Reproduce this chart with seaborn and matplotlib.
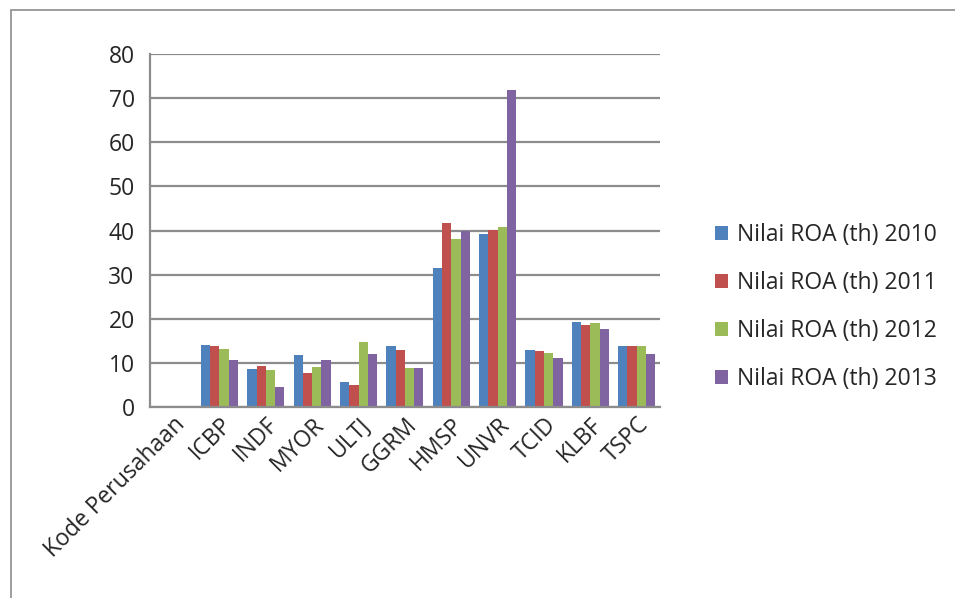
import numpy as np
import pandas as pd
import matplotlib
matplotlib.use('Agg')
import matplotlib.pyplot as plt
import seaborn as sns
from matplotlib.patches import Rectangle

# data
kode = ['Kode Perusahaan', 'ICBP', 'INDF', 'MYOR', 'ULTJ', 'GGRM',
        'HMSP', 'UNVR', 'TCID', 'KLBF', 'TSPC']
roa_2010 = [np.nan, 14.0, 8.6, 11.8, 5.7, 13.9, 31.6, 39.2, 12.9, 19.3, 13.9]
roa_2011 = [np.nan, 13.8, 9.4, 7.7, 5.0, 12.9, 41.6, 40.1, 12.7, 18.7, 13.9]
roa_2012 = [np.nan, 13.1, 8.4, 9.1, 14.8, 8.9, 38.1, 40.7, 12.2, 19.1, 13.8]
roa_2013 = [np.nan, 10.6, 4.6, 10.7, 12.0, 8.8, 39.8, 71.7, 11.2, 17.6, 12.1]
series = ['Nilai ROA (th) 2010', 'Nilai ROA (th) 2011',
          'Nilai ROA (th) 2012', 'Nilai ROA (th) 2013']
warna = ['#4F81BD', '#C0504D', '#9BBB59', '#8064A2']

# monta tabela longa pro seaborn
df = pd.DataFrame({'kode': kode, series[0]: roa_2010, series[1]: roa_2011,
                   series[2]: roa_2012, series[3]: roa_2013})
df = df.melt(id_vars='kode', var_name='tahun', value_name='roa')

sns.set_style('white')
plt.rcParams['font.family'] = ['Open Sans', 'DejaVu Sans']
fs = 16.5

fig = plt.figure(figsize=(9.55, 5.98), dpi=100)
ax = fig.add_axes([0.157, 0.319, 0.534, 0.591])

sns.barplot(data=df, x='kode', y='roa', hue='tahun', order=kode,
            hue_order=series, palette=warna, width=0.8, ax=ax,
            edgecolor='none', saturation=1, legend=True)

ax.set_ylim(0, 80)
ax.set_yticks(range(0, 81, 10))
ax.set_xlim(-0.5, len(kode) - 0.5)
ax.yaxis.grid(True, color='#8c8c8c', linewidth=1.6)
ax.set_axisbelow(True)
ax.set_xlabel('')
ax.set_ylabel('')

for s in ['top', 'right']:
    ax.spines[s].set_visible(False)
for s in ['left', 'bottom']:
    ax.spines[s].set_color('#8c8c8c')
    ax.spines[s].set_linewidth(1.6)

# ticks do eixo x entre as categorias
ax.set_xticks(np.arange(-0.5, len(kode), 1.0), minor=True)
ax.tick_params(axis='x', which='minor', length=6, color='#8c8c8c', width=1.2)
ax.tick_params(axis='x', which='major', length=0, pad=4)
ax.tick_params(axis='y', length=6, color='#8c8c8c', width=1.2, labelsize=fs, pad=5)
ax.set_xticks(range(len(kode)))
ax.set_xticklabels(kode, rotation=45, ha='right', rotation_mode='anchor', fontsize=fs)

# legenda à direita
handles, labels = ax.get_legend_handles_labels()
ax.get_legend().remove()
fig.legend(handles, labels, loc='center left', bbox_to_anchor=(0.727, 0.486),
           frameon=False, fontsize=fs, labelspacing=1.05, handlelength=0.57,
           handleheight=0.57, handletextpad=0.4)

# moldura do gráfico
fig.patches.append(Rectangle((0.011, -0.1), 1.2, 1.083, transform=fig.transFigure,
                             fill=False, edgecolor='#8c8c8c', linewidth=1.2))

fig.savefig('out.png', dpi=100)
